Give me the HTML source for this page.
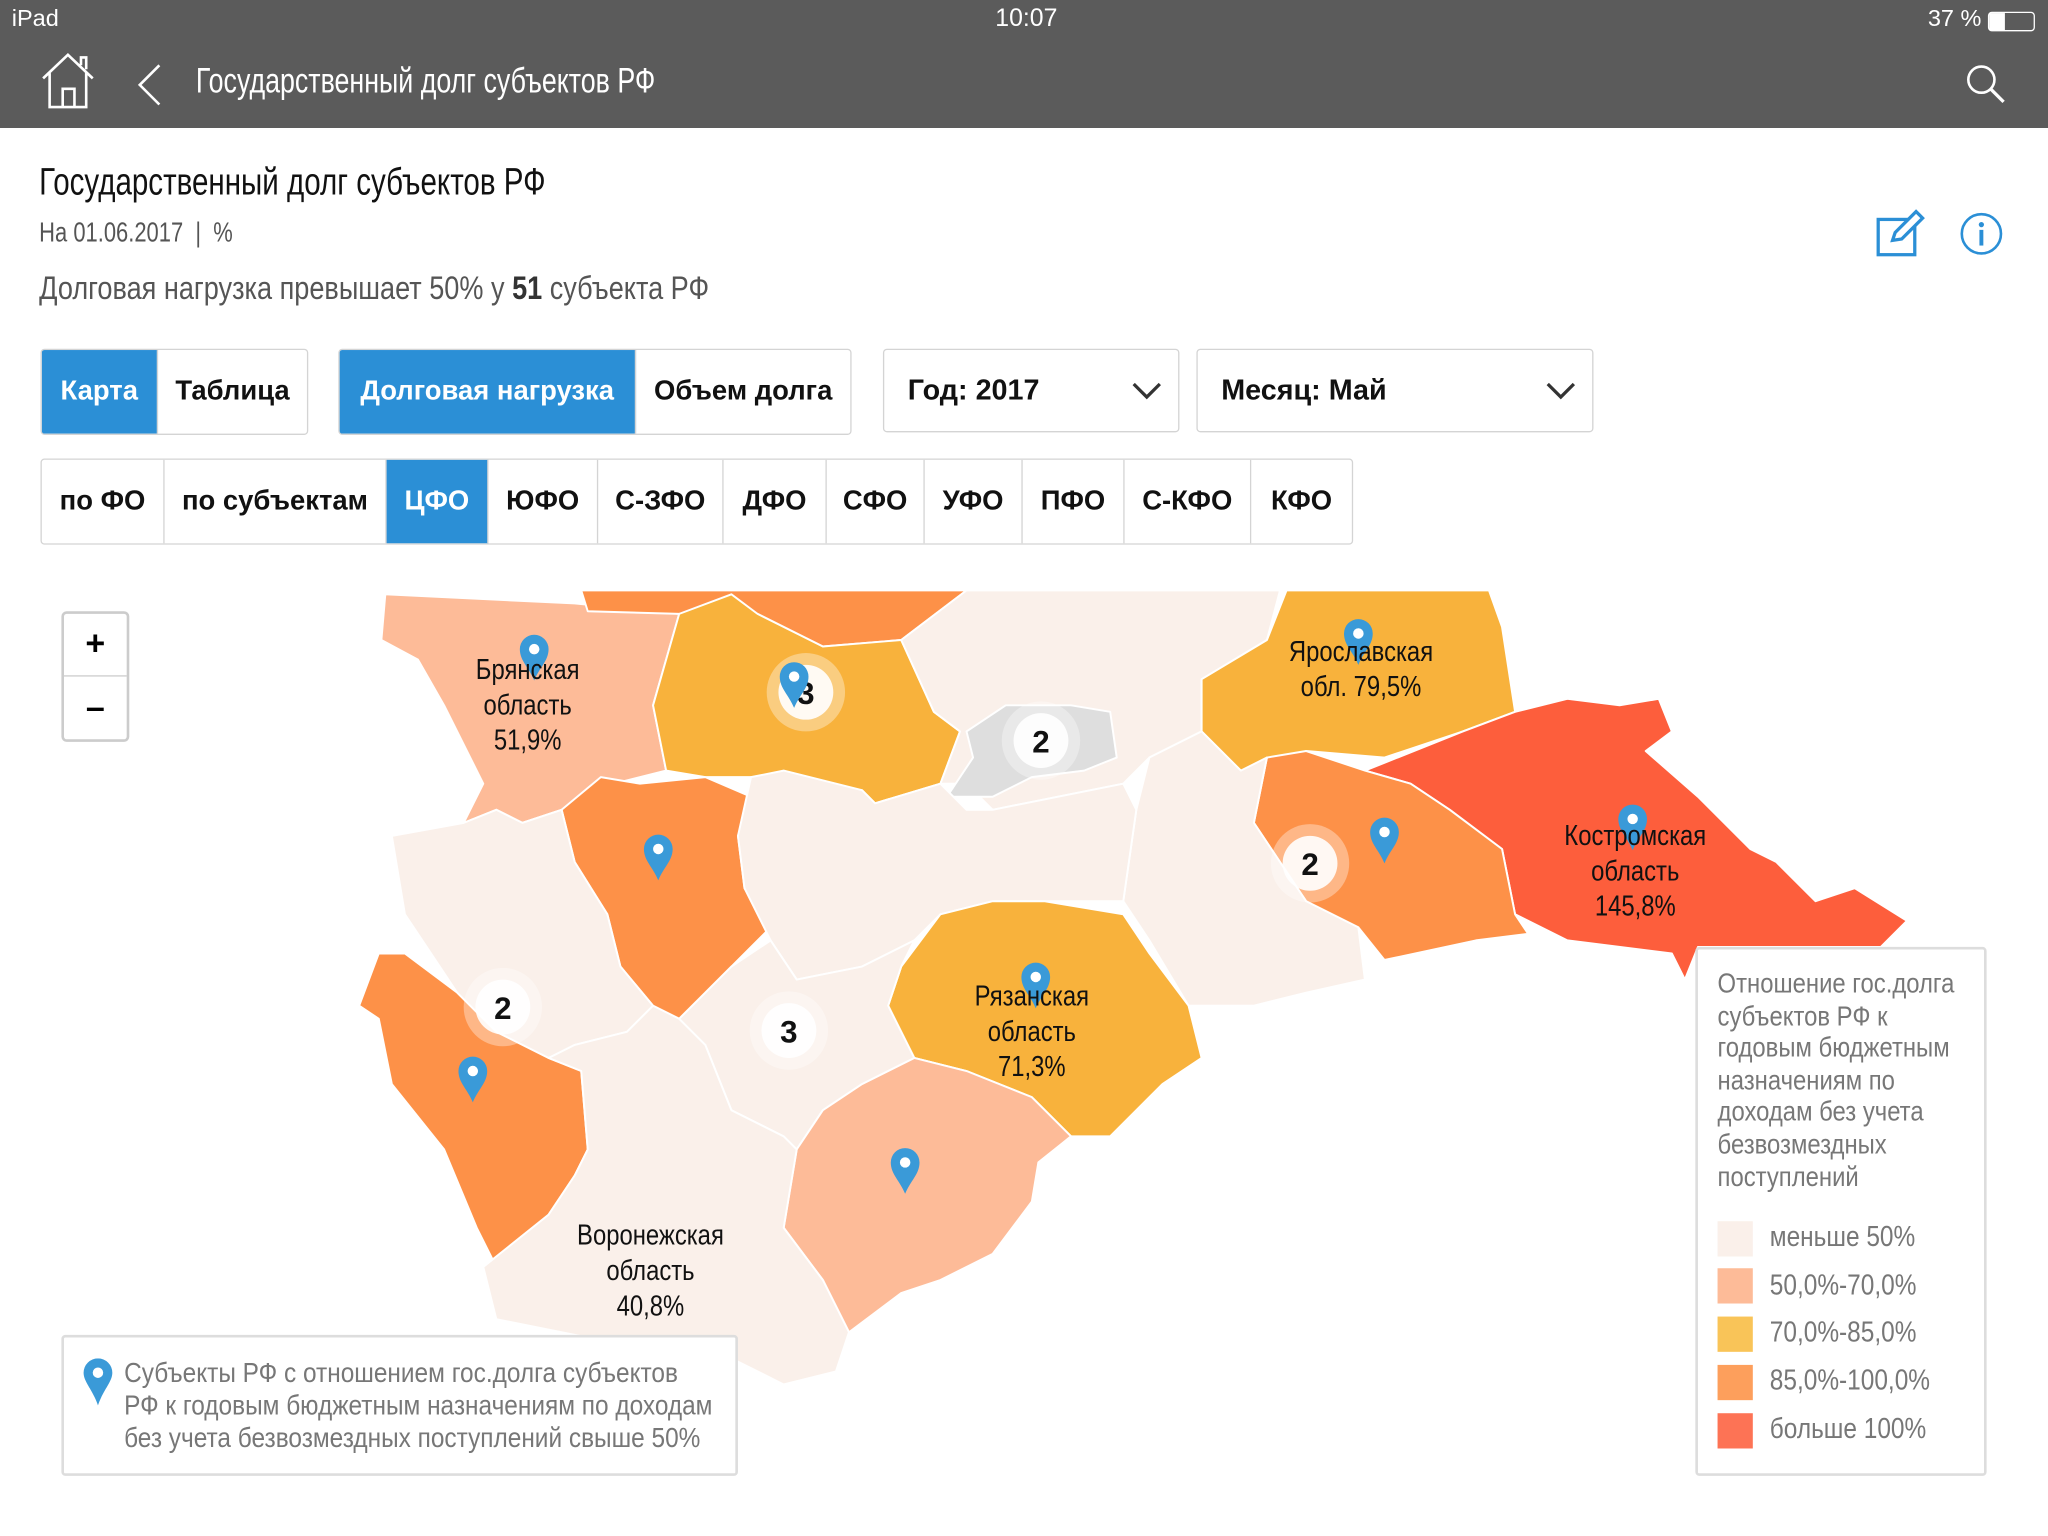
<!DOCTYPE html>
<html><head><meta charset="utf-8"><style>
html,body{margin:0;padding:0;width:2048px;height:1536px;overflow:hidden;background:#fff}
#w{position:absolute;left:0;top:0;width:1568px;height:1176px;transform:scale(1.30612);transform-origin:0 0;font-family:"Liberation Sans Narrow","Liberation Sans","DejaVu Sans Condensed",sans-serif}
.a{position:absolute;white-space:nowrap}
.n{transform-origin:0 0}
.bar{position:absolute;left:0;top:0;width:1568px;height:98px;background:#5b5b5b}
.seg{position:absolute;display:flex;border:1.5px solid #d4d4d4;border-radius:3px;overflow:hidden;font-family:"Liberation Sans",sans-serif;font-weight:bold;font-size:21px;color:#111}
.seg div{display:flex;align-items:center;justify-content:center;border-right:1.5px solid #d4d4d4;height:100%;box-sizing:border-box}
.seg div:last-child{border-right:none}
.seg .on{background:#2b8fd6;color:#fff}
.dd{position:absolute;border:1.5px solid #d4d4d4;border-radius:3px;font-family:"Liberation Sans",sans-serif;font-weight:bold;font-size:22px;display:flex;align-items:center;box-sizing:border-box;padding-left:18px;color:#111}
</style></head><body><div id="w">
<div class="bar"></div>
<div class="a" style="left:9px;top:4px;font-size:18px;color:#fff">iPad</div>
<div class="a" style="left:762px;top:4px;font-size:19px;color:#fff;font-family:'Liberation Sans',sans-serif">10:07</div>
<div class="a" style="left:1476px;top:4px;font-size:18px;color:#fff">37 %</div>
<div class="a" style="left:1522px;top:9px;width:34px;height:13px;border:1.5px solid #fff;border-radius:3px"><div style="width:12px;height:13px;background:#fff"></div></div>
<svg class="a" style="left:30px;top:40px" width="46" height="44" viewBox="0 0 46 44"><path d="M3 20 L22 2 L41 20 M8 16 V42 H36 V16 M18 42 V28 H27 V42 M32 10 V4 H36 V13" fill="none" stroke="#fff" stroke-width="2"/></svg>
<svg class="a" style="left:104px;top:48px" width="20" height="34"><path d="M18 2 L3 17 L18 32" fill="none" stroke="#fff" stroke-width="2"/></svg>
<div class="a n" style="left:150px;top:47px;font-size:27px;color:#fff;transform:scaleX(0.76)">Государственный долг субъектов РФ</div>
<svg class="a" style="left:1504px;top:48px" width="32" height="32"><circle cx="13" cy="13" r="10" fill="none" stroke="#fff" stroke-width="2"/><path d="M20 20 L30 30" stroke="#fff" stroke-width="2.5"/></svg>

<div class="a n" style="left:30px;top:124px;font-size:29px;color:#111;transform:scaleX(0.78)">Государственный долг субъектов РФ</div>
<div class="a n" style="left:30px;top:167px;font-size:21px;color:#555;transform:scaleX(0.8)">На 01.06.2017 &nbsp;| &nbsp;%</div>
<div class="a n" style="left:30px;top:207px;font-size:25px;color:#555;transform:scaleX(0.83)">Долговая нагрузка превышает 50% у <b style="color:#333">51</b> субъекта РФ</div>
<svg class="a" style="left:1435px;top:160px" width="40" height="38"><rect x="3" y="8" width="28" height="27" fill="none" stroke="#2b8fd6" stroke-width="2.5"/><path d="M14 24 L16 18 L32 2 L37 7 L21 23 Z" fill="#fff" stroke="#2b8fd6" stroke-width="2.5"/></svg>
<svg class="a" style="left:1500px;top:162px" width="34" height="34"><circle cx="17" cy="17" r="15" fill="none" stroke="#2b8fd6" stroke-width="2"/><circle cx="17" cy="10" r="2" fill="#2b8fd6"/><rect x="15.5" y="14" width="3" height="12" fill="#2b8fd6"/></svg>

<div class="seg" style="left:31px;top:267px;width:203px;height:64px"><div class="on" style="width:89px">Карта</div><div style="flex:1">Таблица</div></div>
<div class="seg" style="left:259px;top:267px;width:391px;height:64px"><div class="on" style="width:227px">Долговая нагрузка</div><div style="flex:1">Объем долга</div></div>
<div class="dd" style="left:676px;top:267px;width:227px;height:64px">Год: 2017<svg style="position:absolute;right:12px;top:24px" width="24" height="16"><path d="M2 2 L12 12 L22 2" fill="none" stroke="#333" stroke-width="2.5"/></svg></div>
<div class="dd" style="left:916px;top:267px;width:304px;height:64px">Месяц: Май<svg style="position:absolute;right:12px;top:24px" width="24" height="16"><path d="M2 2 L12 12 L22 2" fill="none" stroke="#333" stroke-width="2.5"/></svg></div>
<div class="seg" style="left:31px;top:351px;width:1003px;height:64px"><div style="width:94px">по ФО</div><div style="width:170px">по субъектам</div><div class="on" style="width:78px">ЦФО</div><div style="width:84px">ЮФО</div><div style="width:96px">С-ЗФО</div><div style="width:79px">ДФО</div><div style="width:75px">СФО</div><div style="width:75px">УФО</div><div style="width:78px">ПФО</div><div style="width:97px">С-КФО</div><div style="flex:1">КФО</div></div>

<svg class="a" style="left:0;top:0" width="1568" height="1176">
<g stroke="#fff" stroke-width="1.5" stroke-linejoin="round">
<polygon fill="#fdbb98" points="295,455 440,462 520,470 500,540 510,590 470,600 430,620 400,630 380,620 355,630 370,600 340,540 320,505 292,490"/>
<polygon fill="#fd9148" points="445,452 740,452 690,490 630,495 580,470 520,470 450,468"/>
<polygon fill="#f8b23c" points="520,470 560,455 580,470 630,495 690,490 715,545 735,560 720,600 670,615 660,605 600,600 575,595 540,595 510,590 500,540"/>
<polygon fill="#faf0ea" points="690,490 740,452 980,452 970,490 920,520 920,560 880,580 860,600 760,620 740,600 720,600 735,560 715,545"/>
<polygon fill="#dedede" points="740,560 770,540 820,540 850,545 855,580 830,590 790,595 760,610 725,610 745,580"/>
<polygon fill="#f8b23c" points="985,452 1140,452 1150,480 1160,545 1120,560 1060,580 1000,575 950,590 920,560 920,520 970,490"/>
<polygon fill="#fd5e3c" points="1045,590 1120,560 1160,545 1200,535 1240,540 1270,535 1280,560 1260,575 1300,610 1340,650 1360,660 1390,690 1420,680 1460,705 1440,725 1300,725 1290,750 1280,730 1200,720 1160,700 1150,650 1110,620 1080,600"/>
<polygon fill="#fd9148" points="970,580 1000,575 1045,590 1080,600 1110,620 1150,650 1160,700 1170,715 1130,720 1060,735 1040,710 1000,690 960,630"/>
<polygon fill="#faf0ea" points="880,580 920,560 950,590 970,580 960,630 1000,690 1040,710 1045,750 1000,760 960,770 910,770 880,720 860,690 870,620"/>
<polygon fill="#fd9148" points="430,620 460,595 490,600 540,595 575,610 565,640 570,680 590,710 560,740 540,760 520,780 500,770 475,740 465,700 440,660"/>
<polygon fill="#faf0ea" points="575,595 600,590 660,605 670,615 720,600 740,620 760,620 860,600 870,620 860,690 800,690 760,690 720,700 700,720 660,740 610,750 590,720 570,680 565,640"/>
<polygon fill="#f8b23c" points="720,700 760,690 800,690 860,700 880,730 910,770 920,810 890,830 850,870 820,870 790,840 740,820 700,810 680,770 690,740"/>
<polygon fill="#faf0ea" points="590,720 610,750 660,740 700,720 690,740 680,770 700,810 660,830 630,850 610,880 600,870 560,850 540,800 520,780 540,760 560,740"/>
<polygon fill="#fdbb98" points="630,850 660,830 700,810 740,820 790,840 820,870 795,890 790,920 760,960 720,980 690,990 650,1020 630,980 600,940 610,880"/>
<polygon fill="#faf0ea" points="300,640 355,630 380,620 400,630 430,620 440,660 465,700 475,740 500,770 480,790 440,800 420,810 380,790 350,760 330,730 310,700"/>
<polygon fill="#fd9148" points="275,770 290,730 310,730 350,760 380,790 420,810 445,820 450,880 440,900 420,930 380,970 365,940 340,880 300,830 290,780"/>
<polygon fill="#faf0ea" points="420,810 440,800 480,790 500,770 520,780 540,800 560,850 600,870 610,880 600,940 630,980 650,1020 640,1050 600,1060 560,1040 480,1030 380,1010 370,970 420,930 440,900 450,880 445,820"/>
</g>
<g font-family="Liberation Sans" font-weight="bold" font-size="24" text-anchor="middle" fill="#111">
<g><circle cx="617" cy="530" r="30" fill="#fff" opacity="0.35"/><circle cx="617" cy="530" r="21" fill="#fff" opacity="0.9"/><text x="617" y="539">3</text></g>
<g><circle cx="797" cy="567" r="30" fill="#fff" opacity="0.35"/><circle cx="797" cy="567" r="21" fill="#fff" opacity="0.9"/><text x="797" y="576">2</text></g>
<g><circle cx="1003" cy="661" r="30" fill="#fff" opacity="0.35"/><circle cx="1003" cy="661" r="21" fill="#fff" opacity="0.9"/><text x="1003" y="670">2</text></g>
<g><circle cx="385" cy="771" r="30" fill="#fff" opacity="0.35"/><circle cx="385" cy="771" r="21" fill="#fff" opacity="0.9"/><text x="385" y="780">2</text></g>
<g><circle cx="604" cy="789" r="30" fill="#fff" opacity="0.35"/><circle cx="604" cy="789" r="21" fill="#fff" opacity="0.9"/><text x="604" y="798">3</text></g>
</g>
<g fill="#3a9ad8">
<g transform="translate(409,497)"><path d="M0 24 C-4 14 -11 9 -11 0 A11 11 0 0 1 11 0 C11 9 4 14 0 24Z"/><circle r="4" fill="#fff"/></g>
<g transform="translate(608,518)"><path d="M0 24 C-4 14 -11 9 -11 0 A11 11 0 0 1 11 0 C11 9 4 14 0 24Z"/><circle r="4" fill="#fff"/></g>
<g transform="translate(1040,485)"><path d="M0 24 C-4 14 -11 9 -11 0 A11 11 0 0 1 11 0 C11 9 4 14 0 24Z"/><circle r="4" fill="#fff"/></g>
<g transform="translate(504,650)"><path d="M0 24 C-4 14 -11 9 -11 0 A11 11 0 0 1 11 0 C11 9 4 14 0 24Z"/><circle r="4" fill="#fff"/></g>
<g transform="translate(1060,637)"><path d="M0 24 C-4 14 -11 9 -11 0 A11 11 0 0 1 11 0 C11 9 4 14 0 24Z"/><circle r="4" fill="#fff"/></g>
<g transform="translate(1250,627)"><path d="M0 24 C-4 14 -11 9 -11 0 A11 11 0 0 1 11 0 C11 9 4 14 0 24Z"/><circle r="4" fill="#fff"/></g>
<g transform="translate(793,748)"><path d="M0 24 C-4 14 -11 9 -11 0 A11 11 0 0 1 11 0 C11 9 4 14 0 24Z"/><circle r="4" fill="#fff"/></g>
<g transform="translate(362,820)"><path d="M0 24 C-4 14 -11 9 -11 0 A11 11 0 0 1 11 0 C11 9 4 14 0 24Z"/><circle r="4" fill="#fff"/></g>
<g transform="translate(693,890)"><path d="M0 24 C-4 14 -11 9 -11 0 A11 11 0 0 1 11 0 C11 9 4 14 0 24Z"/><circle r="4" fill="#fff"/></g>
</g>
<g font-family="Liberation Sans Narrow, Liberation Sans, sans-serif" font-size="22" text-anchor="middle" fill="#111">
<g transform="translate(404,0) scale(0.83,1)"><text x="0" y="520">Брянская</text><text x="0" y="547">область</text><text x="0" y="574">51,9%</text></g>
<g transform="translate(1042,0) scale(0.83,1)"><text x="0" y="506">Ярославская</text><text x="0" y="533">обл. 79,5%</text></g>
<g transform="translate(1252,0) scale(0.83,1)"><text x="0" y="647">Костромская</text><text x="0" y="674">область</text><text x="0" y="701">145,8%</text></g>
<g transform="translate(790,0) scale(0.83,1)"><text x="0" y="770">Рязанская</text><text x="0" y="797">область</text><text x="0" y="824">71,3%</text></g>
<g transform="translate(498,0) scale(0.83,1)"><text x="0" y="953">Воронежская</text><text x="0" y="980">область</text><text x="0" y="1007">40,8%</text></g>
</g>
</svg>

<div class="a" style="left:47px;top:468px;width:48px;height:96px;border:2px solid #ccc;border-radius:4px;background:#fff;font-family:'Liberation Sans',sans-serif;font-weight:bold;font-size:26px;text-align:center">
<div style="height:47px;line-height:45px;border-bottom:1.5px solid #ccc">+</div><div style="line-height:46px">–</div></div>

<div class="a" style="left:47px;top:1022px;width:518px;height:108px;border:2px solid #ddd;border-radius:3px;background:#fff;box-sizing:border-box"></div>
<svg class="a" style="left:63px;top:1040px" width="26" height="38"><path d="M12 36 C8 24 1 18 1 11 A11 11 0 0 1 23 11 C23 18 16 24 12 36Z" fill="#3a9ad8"/><circle cx="12" cy="11" r="4" fill="#fff"/></svg>
<div class="a n" style="left:95px;top:1039px;font-size:21px;color:#777;line-height:25px;transform:scaleX(0.89)">Субъекты РФ с отношением гос.долга субъектов<br>РФ к годовым бюджетным назначениям по доходам<br>без учета безвозмездных поступлений свыше 50%</div>

<div class="a" style="left:1298px;top:725px;width:223px;height:405px;border:2px solid #ddd;border-radius:3px;background:#fff;box-sizing:border-box"></div>
<div class="a n" style="left:1315px;top:742px;font-size:21px;color:#777;line-height:24.6px;transform:scaleX(0.87)">Отношение гос.долга<br>субъектов РФ к<br>годовым бюджетным<br>назначениям по<br>доходам без учета<br>безвозмездных<br>поступлений</div>
<div class="a" style="left:1315px;top:929px;font-size:22px;color:#777;line-height:36.7px">
<div><span style="display:inline-block;width:27px;height:27px;background:#faf0ea;vertical-align:middle;margin-right:13px"></span><span class="n" style="display:inline-block;transform:scaleX(0.85)">меньше 50%</span></div>
<div><span style="display:inline-block;width:27px;height:27px;background:#fdbb98;vertical-align:middle;margin-right:13px"></span><span class="n" style="display:inline-block;transform:scaleX(0.85)">50,0%-70,0%</span></div>
<div><span style="display:inline-block;width:27px;height:27px;background:#f9c458;vertical-align:middle;margin-right:13px"></span><span class="n" style="display:inline-block;transform:scaleX(0.85)">70,0%-85,0%</span></div>
<div><span style="display:inline-block;width:27px;height:27px;background:#fd9f5c;vertical-align:middle;margin-right:13px"></span><span class="n" style="display:inline-block;transform:scaleX(0.85)">85,0%-100,0%</span></div>
<div><span style="display:inline-block;width:27px;height:27px;background:#fd7355;vertical-align:middle;margin-right:13px"></span><span class="n" style="display:inline-block;transform:scaleX(0.85)">больше 100%</span></div>
</div>
</div></body></html>
